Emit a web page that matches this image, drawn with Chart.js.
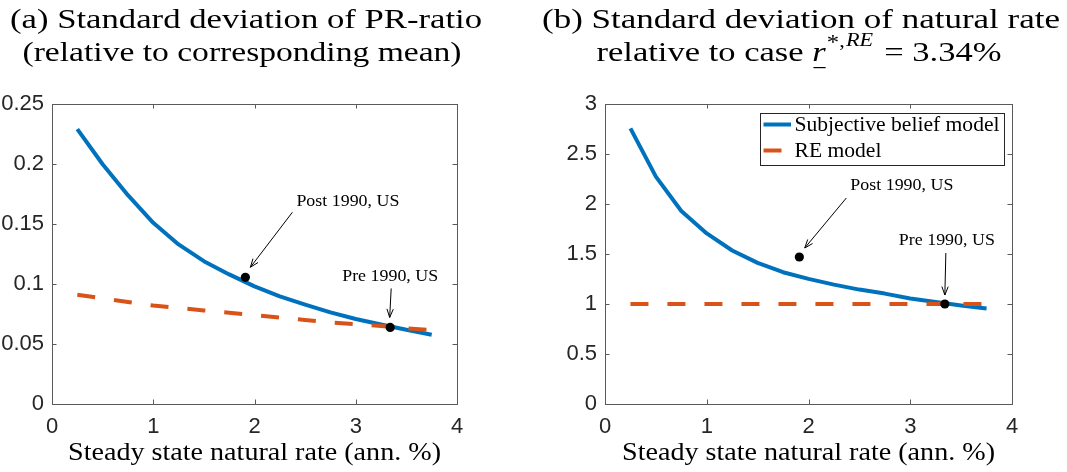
<!DOCTYPE html>
<html>
<head>
<meta charset="utf-8">
<script src="https://cdn.jsdelivr.net/npm/chart.js@4/dist/chart.umd.min.js"></script>
<style>
  html, body { margin: 0; padding: 0; background: #fff; }
  #wrap { position: relative; width: 1067px; height: 472px; overflow: hidden; background: #fff; }
  canvas { position: absolute; top: 0; }
</style>
</head>
<body>
<div id="wrap">
  <canvas id="chartA" width="533" height="472" style="left:0px"></canvas>
  <canvas id="chartB" width="534" height="472" style="left:533px"></canvas>
</div>
<script>
// Steady state natural rate grid (annualised %)
const rates = [0.25, 0.5, 0.75, 1.0, 1.25, 1.5, 1.75, 2.0, 2.25, 2.5, 2.75, 3.0, 3.25, 3.5, 3.75];

// (a) std. dev. of the PR-ratio relative to its mean
const prSubjective = [0.229, 0.1998, 0.174, 0.151, 0.133, 0.119, 0.108, 0.098, 0.0897, 0.0828, 0.0764, 0.0708, 0.0663, 0.0619, 0.0577];
const prRE = [0.091, 0.088, 0.085, 0.082, 0.080, 0.078, 0.076, 0.074, 0.072, 0.070, 0.068, 0.0665, 0.065, 0.063, 0.0615];

// (b) std. dev. of the natural rate relative to the r* = 3.34% RE case
const natSubjective = [2.756, 2.274, 1.93, 1.706, 1.535, 1.411, 1.318, 1.251, 1.194, 1.144, 1.104, 1.055, 1.02, 0.985, 0.955];
const natRE = [1, 1, 1, 1, 1, 1, 1, 1, 1, 1, 1, 1, 1, 1, 1];

// Empirical US samples
const sampleNames = ['Post 1990, US', 'Pre 1990, US'];
const sampleRates = [1.91, 3.34];
const samplePR = [0.1056, 0.0638];
const sampleNat = [1.47, 1.0];

// Axis ticks
const rateTicks = [0, 1, 2, 3, 4];
const prTicks = [0, 0.05, 0.1, 0.15, 0.2, 0.25];
const natTicks = [0, 0.5, 1, 1.5, 2, 2.5, 3];

const seriesNames = ['Subjective belief model', 'RE model'];

const SERIF = '"Liberation Serif", "Times New Roman", serif';
const SANS = '"Liberation Sans", Arial, Helvetica, sans-serif';
const BLUE = '#0072BD';
const ORANGE = '#D95319';

// Draws a run of text pieces, stretched horizontally (to a target width, or by a factor).
function drawRun(ctx, parts, x, y, opts) {
  ctx.save();
  let natural = 0;
  parts.forEach(p => {
    ctx.font = (p.italic ? 'italic ' : '') + p.size + 'px ' + SERIF;
    p.w = ctx.measureText(p.t).width;
    natural += p.w + (p.gap || 0);
  });
  const stretch = opts.width ? opts.width / natural : (opts.stretch || 1);
  const total = natural * stretch;
  const x0 = opts.align === 'center' ? x - total / 2 : (opts.align === 'right' ? x - total : x);
  ctx.translate(x0, y);
  ctx.scale(stretch, 1);
  ctx.fillStyle = opts.color || '#000';
  ctx.textAlign = 'left';
  ctx.textBaseline = opts.baseline || 'alphabetic';
  let cx = 0;
  parts.forEach(p => {
    ctx.font = (p.italic ? 'italic ' : '') + p.size + 'px ' + SERIF;
    ctx.fillText(p.t, cx, p.dy || 0);
    if (p.underline) ctx.fillRect(cx + 1, 6, p.w - 1, 1.2);
    cx += p.w + (p.gap || 0);
  });
  ctx.restore();
  return stretch;
}

function arrow(ctx, x1, y1, x2, y2) {
  const a = Math.atan2(y2 - y1, x2 - x1);
  const L = 9, s = 0.36;
  ctx.save();
  ctx.strokeStyle = '#000';
  ctx.lineWidth = 1;
  ctx.beginPath();
  ctx.moveTo(x1, y1); ctx.lineTo(x2, y2);
  ctx.moveTo(x2 - L * Math.cos(a - s), y2 - L * Math.sin(a - s));
  ctx.lineTo(x2, y2);
  ctx.lineTo(x2 - L * Math.cos(a + s), y2 - L * Math.sin(a + s));
  ctx.stroke();
  ctx.restore();
}

// Box around the axes with inward tick marks on all four sides
const framePlugin = {
  id: 'frame',
  beforeDatasetsDraw(chart) {
    const { ctx, chartArea: a, scales } = chart;
    ctx.save();
    ctx.strokeStyle = '#5a5a5a';
    ctx.lineWidth = 1;
    const L = 4.5;
    ctx.beginPath();
    scales.x.ticks.forEach(t => {
      const px = Math.round(scales.x.getPixelForValue(t.value)) + 0.5;
      ctx.moveTo(px, a.bottom); ctx.lineTo(px, a.bottom - L);
      ctx.moveTo(px, a.top); ctx.lineTo(px, a.top + L);
    });
    scales.y.ticks.forEach(t => {
      const py = Math.round(scales.y.getPixelForValue(t.value)) + 0.5;
      ctx.moveTo(a.left, py); ctx.lineTo(a.left + L, py);
      ctx.moveTo(a.right, py); ctx.lineTo(a.right - L, py);
    });
    ctx.stroke();
    ctx.strokeRect(Math.round(a.left) + 0.5, Math.round(a.top) + 0.5, Math.round(a.right - a.left), Math.round(a.bottom - a.top));
    ctx.restore();
  }
};

// Titles, x-axis title, sample annotations and (optionally) the legend
const decorPlugin = {
  id: 'decor',
  afterDraw(chart, args, o) {
    const { ctx, chartArea: a, scales } = chart;
    const midX = (a.left + a.right) / 2;

    // two-line caption above the axes
    drawRun(ctx, o.title1, midX + o.titleShift1, 28, { width: o.titleWidth1, align: 'center' });
    drawRun(ctx, o.title2, midX + o.titleShift2, 61, { width: o.titleWidth2, align: 'center' });

    // x-axis title
    drawRun(ctx, [{ t: 'Steady state natural rate (ann. %)', size: 25 }], midX, 460, { width: 373, align: 'center' });

    // sample markers: arrows and labels
    const annStretch = drawRun(ctx, [{ t: sampleNames[0], size: 16.5 }], -1000, -1000, { width: 103 });
    o.samples.forEach((v, i) => {
      const px = scales.x.getPixelForValue(sampleRates[i]);
      const py = scales.y.getPixelForValue(v);
      const g = o.callouts[i];
      arrow(ctx, px + g.tail[0], py + g.tail[1], px + g.tip[0], py + g.tip[1]);
      drawRun(ctx, [{ t: sampleNames[i], size: 16.5 }], px + g.label[0], py + g.label[1],
        { stretch: annStretch, align: g.align, baseline: 'middle' });
    });

    if (o.legend) {
      const w = 244, h = 52;
      const left = a.right - 8 - w, top = a.top + 8.5;
      ctx.save();
      ctx.fillStyle = '#fff';
      ctx.fillRect(left, top, w, h);
      ctx.strokeStyle = '#262626';
      ctx.lineWidth = 1;
      ctx.strokeRect(Math.round(left) + 0.5, Math.round(top) + 0.5, w, h);
      const rows = [top + 12, top + 38];
      ctx.lineWidth = 4;
      ctx.strokeStyle = BLUE;
      ctx.beginPath(); ctx.moveTo(left + 3.5, rows[0]); ctx.lineTo(left + 31, rows[0]); ctx.stroke();
      ctx.strokeStyle = ORANGE;
      ctx.beginPath(); ctx.moveTo(left + 3.5, rows[1]); ctx.lineTo(left + 21.5, rows[1]); ctx.stroke();
      ctx.restore();
      const ls = drawRun(ctx, [{ t: seriesNames[0], size: 20 }], left + 34.5, rows[0] + 1, { width: 205, baseline: 'middle' });
      drawRun(ctx, [{ t: seriesNames[1], size: 20 }], left + 34.5, rows[1] + 1, { stretch: ls, baseline: 'middle' });
    }
  }
};

function makeChart(id, cfg) {
  return new Chart(document.getElementById(id), {
    type: 'line',
    data: {
      datasets: [
        {
          label: seriesNames[0],
          data: rates.map((x, i) => ({ x, y: cfg.subjective[i] })),
          borderColor: BLUE, borderWidth: 4, pointRadius: 0, tension: 0,
          borderJoinStyle: 'round', order: 3
        },
        {
          label: seriesNames[1],
          data: rates.map((x, i) => ({ x, y: cfg.re[i] })),
          borderColor: ORANGE, borderWidth: 4, borderDash: [18, 19], pointRadius: 0, tension: 0,
          order: 2
        },
        {
          label: 'samples',
          data: sampleRates.map((x, i) => ({ x, y: cfg.samples[i] })),
          showLine: false, pointRadius: 4.6, pointBackgroundColor: '#000', pointBorderColor: '#000',
          pointBorderWidth: 0, order: 1
        }
      ]
    },
    options: {
      responsive: false,
      animation: false,
      devicePixelRatio: 1,
      layout: { padding: { left: 0, right: cfg.padRight, top: 104, bottom: 0 } },
      plugins: {
        legend: { display: false },
        tooltip: { enabled: false },
        decor: cfg.decor
      },
      scales: {
        x: {
          type: 'linear', min: 0, max: 4,
          afterBuildTicks: s => { s.ticks = rateTicks.map(v => ({ value: v })); },
          afterFit: s => { s.height = 68; },
          grid: { display: false, drawTicks: false },
          border: { display: false },
          ticks: { padding: 10, color: '#262626', font: { family: SANS, size: 22 }, maxRotation: 0, autoSkip: false, callback: v => String(v) }
        },
        y: {
          type: 'linear', min: 0, max: cfg.yMax,
          afterBuildTicks: s => { s.ticks = cfg.ticks.map(v => ({ value: v })); },
          afterFit: s => { s.width = cfg.yWidth; },
          grid: { display: false, drawTicks: false },
          border: { display: false },
          ticks: { padding: 8, color: '#262626', font: { family: SANS, size: 22 }, autoSkip: false, callback: v => String(v) }
        }
      }
    },
    plugins: [framePlugin, decorPlugin]
  });
}

makeChart('chartA', {
  subjective: prSubjective, re: prRE, samples: samplePR,
  yMax: 0.25, ticks: prTicks, yWidth: 52, padRight: 76,
  decor: {
    title1: [{ t: '(a) Standard deviation of PR-ratio', size: 28 }],
    title2: [{ t: '(relative to corresponding mean)', size: 28 }],
    titleShift1: -8.5, titleShift2: -12.5, titleWidth1: 472, titleWidth2: 439,
    samples: samplePR,
    callouts: [
      { tip: [5, -10], tail: [47, -65], label: [51, -76], align: 'left' },
      { tip: [-0.5, -10], tail: [1, -39], label: [0, -51], align: 'center' }
    ],
    legend: false
  }
});

makeChart('chartB', {
  subjective: natSubjective, re: natRE, samples: sampleNat,
  yMax: 3, ticks: natTicks, yWidth: 72, padRight: 55,
  decor: {
    title1: [{ t: '(b) Standard deviation of natural rate', size: 28 }],
    title2: [
      { t: 'relative to case ', size: 28 },
      { t: 'r', size: 28, italic: true, underline: true, gap: 1 },
      { t: '*', size: 20, dy: -12 },
      { t: ',', size: 18, dy: -14, gap: 1 },
      { t: 'RE', size: 18, italic: true, dy: -15, gap: 2 },
      { t: ' = 3.34%', size: 28 }
    ],
    titleShift1: -7.5, titleShift2: -9.5, titleWidth1: 518, titleWidth2: 405,
    samples: sampleNat,
    callouts: [
      { tip: [5.4, -9], tail: [47, -59], label: [51, -71], align: 'left' },
      { tip: [0, -9], tail: [1, -51], label: [2, -63], align: 'center' }
    ],
    legend: true
  }
});
</script>
</body>
</html>
